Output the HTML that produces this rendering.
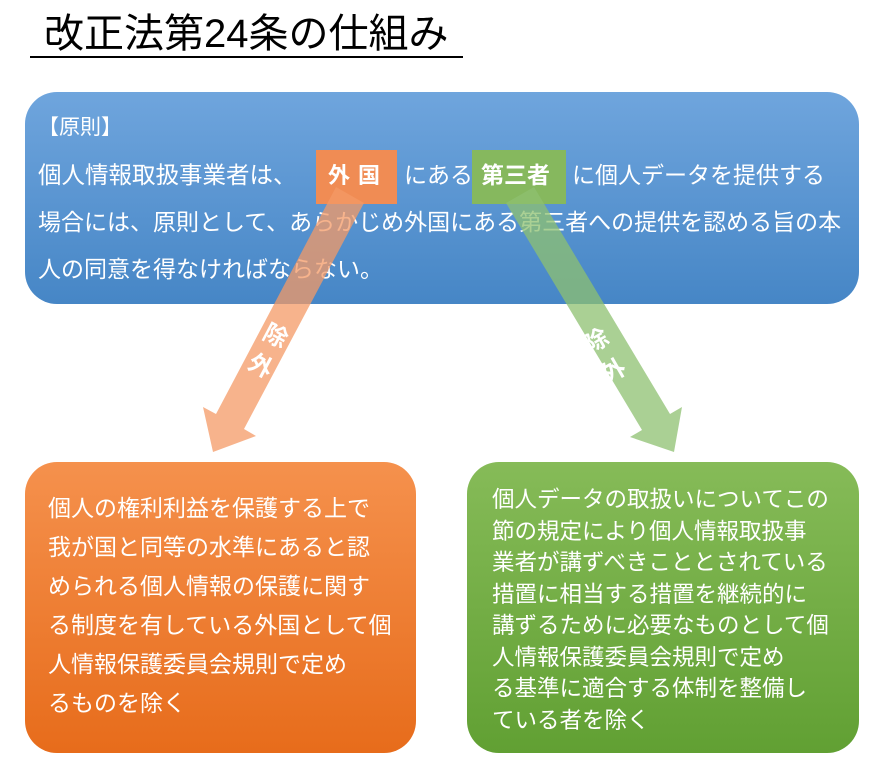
<!DOCTYPE html>
<html><head><meta charset="utf-8"><style>
body{margin:0;width:882px;height:768px;background:#fff;position:relative;overflow:hidden;font-family:"Liberation Sans","Noto Sans CJK JP",sans-serif;}
.t{position:absolute;white-space:nowrap;}
.box{position:absolute;border-radius:32px;}
.l{position:absolute;white-space:nowrap;color:#fff;line-height:1;}
.c{position:absolute;color:#fff;font-weight:bold;font-size:24px;line-height:24px;width:24px;height:24px;text-align:center;}
</style></head><body>
<div class="t" style="left:44px;top:12px;font-size:40px;line-height:44px;color:#000;">改正法第24条の仕組み</div>
<div style="position:absolute;left:30px;top:56px;width:433px;height:2px;background:#000;"></div>

<div class="box" style="left:25px;top:92px;width:834px;height:212px;background:linear-gradient(#6fa5dd,#4686c6);"></div>
<div class="l" style="left:38px;top:117px;font-size:21px;">【原則】</div>
<div style="position:absolute;left:316px;top:150px;width:81px;height:54px;background:#f08c54;"></div>
<div style="position:absolute;left:472px;top:150px;width:94px;height:54px;background:#86b85e;"></div>
<div class="l" style="left:38px;top:164px;font-size:23.5px;">個人情報取扱事業者は、</div>
<div class="l" style="left:328px;top:165px;font-size:22px;font-weight:bold;letter-spacing:8px;">外国</div>
<div class="l" style="left:404px;top:164px;font-size:23px;">にある</div>
<div class="l" style="left:481px;top:164px;font-size:23px;font-weight:bold;">第三者</div>
<div class="l" style="left:572px;top:164px;font-size:23px;">に個人データを提供する</div>
<div class="l" style="left:38px;top:211px;font-size:23px;">場合には、原則として、あらかじめ外国にある第三者への提供を認める旨の本</div>
<div class="l" style="left:38px;top:258px;font-size:23px;">人の同意を得なければならない。</div>

<div class="box" style="left:25px;top:462px;width:391px;height:291px;background:linear-gradient(#f5914d,#e76c1b);"></div>
<div class="box" style="left:467px;top:462px;width:392px;height:291px;background:linear-gradient(#86bb58,#61a033);"></div>

<div style="position:absolute;left:48px;top:489px;font-size:23px;color:#fff;line-height:39px;white-space:nowrap;">個人の権利利益を保護する上で<br>我が国と同等の水準にあると認<br>められる個人情報の保護に関す<br>る制度を有している外国として個<br>人情報保護委員会規則で定め<br>るものを除く</div>
<div style="position:absolute;left:492px;top:484px;font-size:22.5px;color:#fff;line-height:31.5px;white-space:nowrap;">個人データの取扱いについてこの<br>節の規定により個人情報取扱事<br>業者が講ずべきこととされている<br>措置に相当する措置を継続的に<br>講ずるために必要なものとして個<br>人情報保護委員会規則で定め<br>る基準に適合する体制を整備し<br>ている者を除く</div>

<svg style="position:absolute;left:0;top:0" width="882" height="768">
<polygon points="336,187 364,203 244,429 256,436 213,452 203,407 216,414" fill="#f49a66" fill-opacity="0.75"/>
<polygon points="506,203 534,187 670,414 682,407 674,452 630,437 642,430" fill="#8ec070" fill-opacity="0.75"/>
</svg>
<div class="c" style="left:263px;top:325px;transform:rotate(28deg);">除</div>
<div class="c" style="left:248px;top:355px;transform:rotate(28deg);">外</div>
<div class="c" style="left:585px;top:330px;transform:rotate(-30deg);">除</div>
<div class="c" style="left:602px;top:360px;transform:rotate(-30deg);">外</div>
</body></html>
